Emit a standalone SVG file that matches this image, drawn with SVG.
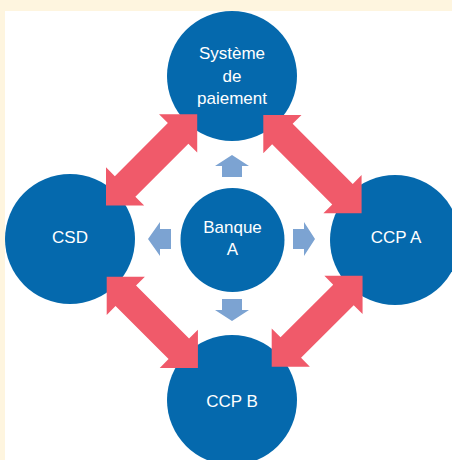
<svg xmlns="http://www.w3.org/2000/svg" width="452" height="460" viewBox="0 0 452 460">
<style>
.node{fill:#0569AD}
.lbl{fill:#FFFFFF;font-family:"Liberation Sans",Arial,sans-serif;font-size:17px;text-anchor:middle}
.red{fill:#F05A6A}
.lb{fill:#7CA3D2}
</style>
<rect x="0" y="0" width="452" height="460" fill="#FEF5DF"/>
<rect x="5" y="11" width="447" height="449" fill="#FFFFFF"/>
<g id="systeme">
<circle class="node" cx="232" cy="76" r="65"/>
<text class="lbl" x="232" y="59">Système</text>
<text class="lbl" x="232" y="82">de</text>
<text class="lbl" x="232" y="104">paiement</text>
</g>
<g id="csd">
<circle class="node" cx="70" cy="239" r="65"/>
<text class="lbl" x="70" y="243">CSD</text>
</g>
<g id="ccpa">
<circle class="node" cx="395" cy="240" r="65"/>
<text class="lbl" x="396" y="243">CCP A</text>
</g>
<g id="ccpb">
<circle class="node" cx="232" cy="400" r="65"/>
<text class="lbl" x="232" y="407">CCP B</text>
</g>
<g id="banque">
<circle class="node" cx="232.5" cy="240" r="52"/>
<text class="lbl" x="232.5" y="233">Banque</text>
<text class="lbl" x="232.5" y="255">A</text>
</g>
<g id="connectors">
<polygon class="red" transform="translate(106,205.5) rotate(-45)" points="0,0 27,-27 27,-14.5 102,-14.5 102,-27 129,0 102,27 102,14.5 27,14.5 27,27"/>
<polygon class="red" transform="translate(263.3,115) rotate(45)" points="0,0 27,-27 27,-14.5 112,-14.5 112,-27 139,0 112,27 112,14.5 27,14.5 27,27"/>
<polygon class="red" transform="translate(106.7,276.7) rotate(45)" points="0,0 27,-27 27,-14.5 102,-14.5 102,-27 129,0 102,27 102,14.5 27,14.5 27,27"/>
<polygon class="red" transform="translate(271.7,366.7) rotate(-45)" points="0,0 27,-27 27,-14.5 101.5,-14.5 101.5,-27 128.5,0 101.5,27 101.5,14.5 27,14.5 27,27"/>
<polygon class="lb" points="232,155 249,166 242,166 242,177 222,177 222,166 215,166"/>
<polygon class="lb" points="232,321 249,310 242,310 242,299 222,299 222,310 215,310"/>
<polygon class="lb" points="148,239 160,222 160,229 171,229 171,249 160,249 160,256"/>
<polygon class="lb" points="315,239 304,222 304,229 293,229 293,249 304,249 304,256"/>
</g>
</svg>
